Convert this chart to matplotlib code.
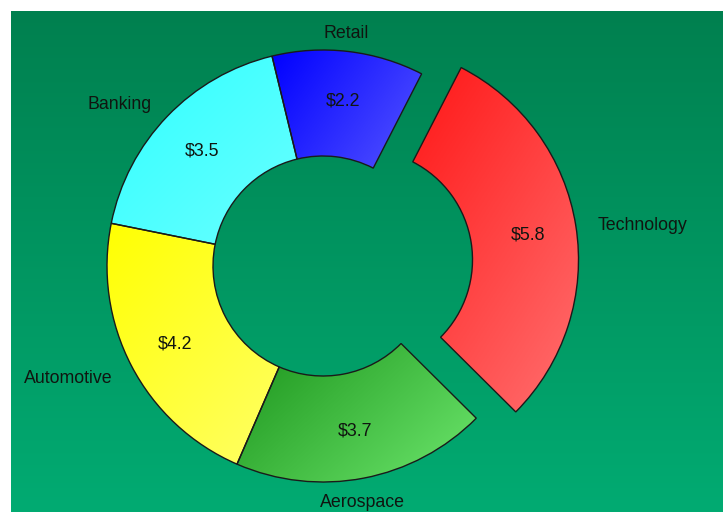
import numpy as np
import matplotlib
matplotlib.use("Agg")
import matplotlib.pyplot as plt
from matplotlib.colors import LinearSegmentedColormap

# data
sectors = ["Technology", "Retail", "Banking", "Automotive", "Aerospace"]
revenue = [5.8, 2.2, 3.5, 4.2, 3.7]
explode_px = [40, 0, 0, 0, 0]

# gradient colours per wedge (top-left -> bottom-right)
grad_colors = [
    ("#ff0c0c", "#ff7070"),
    ("#0000ff", "#6e6eff"),
    ("#30ffff", "#70ffff"),
    ("#ffff00", "#ffff70"),
    ("#0a820a", "#6ee86e"),
]

W, H = 723, 512
cx, cy = 323, H - 266
R = 216
ring = 106

fig = plt.figure(figsize=(W / 100, H / 100), dpi=100, facecolor="white")

# background gradient
bg = fig.add_axes([11 / W, 0, (W - 11) / W, (H - 11) / H])
bg_cmap = LinearSegmentedColormap.from_list("bg", ["#00804f", "#02ab72"])
bg.imshow(np.linspace(0, 1, 256).reshape(-1, 1), cmap=bg_cmap, aspect="auto",
          extent=[0, 1, 0, 1], origin="upper")
bg.set_axis_off()

ax = fig.add_axes([0, 0, 1, 1])
ax.patch.set_alpha(0)

wedges, _ = ax.pie(
    revenue,
    explode=explode_px,
    startangle=-44.8,
    counterclock=True,
    radius=R,
    center=(cx, cy),
    wedgeprops=dict(width=ring, edgecolor="#1a1a1a", linewidth=1.0, facecolor="none"),
)

t_font = dict(family=["Liberation Sans", "DejaVu Sans"], fontsize=12.8, color="#101510")

for w, (c0, c1), name, val in zip(wedges, grad_colors, sectors, revenue):
    verts = w.get_patch_transform().transform(w.get_path().vertices)
    x0, y0 = verts.min(axis=0)
    x1, y1 = verts.max(axis=0)
    u = np.linspace(0, 1, 200)
    uu, vv = np.meshgrid(u, u)
    grad = (uu + vv) / 2
    cmap = LinearSegmentedColormap.from_list("w", [c0, c1])
    im = ax.imshow(grad, cmap=cmap, extent=[x0, x1, y0, y1], origin="upper",
                   aspect="auto", zorder=0.5)
    im.set_clip_path(w)
    w.set_zorder(1)

    ang = np.deg2rad((w.theta1 + w.theta2) / 2)
    wx, wy = w.center
    c, s = np.cos(ang), np.sin(ang)
    # value label inside
    pr = R * 0.775
    ax.text(wx + pr * c, wy + pr * s - 1, f"${val}", ha="center", va="center",
            zorder=3, **t_font)
    # sector label outside
    lr = R * 1.10
    if abs(c) < 0.25:
        ha = "center"
        lx = wx + lr * c - 5
    elif c > 0:
        ha = "left"
        lx = wx + lr * c
    else:
        ha = "right"
        lx = wx + lr * c
    ax.text(lx, wy + lr * s - 3, name, ha=ha, va="center", zorder=3, **t_font)

ax.set_xlim(0, W)
ax.set_ylim(0, H)
ax.set_aspect("auto")
ax.set_axis_off()

fig.savefig("out.png", dpi=100, facecolor="white")
